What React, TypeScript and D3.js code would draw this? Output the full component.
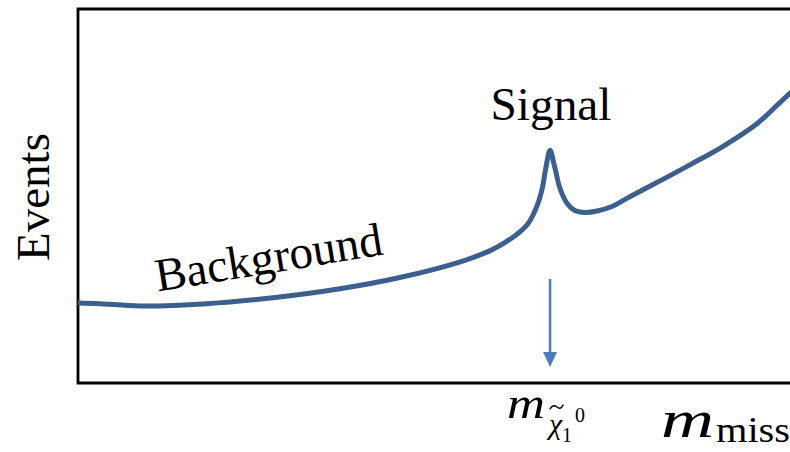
import React from "react";
import * as d3 from "d3";

// Missing-mass spectrum sketch: smooth background with a narrow signal bump
const massValues = [
  0, 3.1, 8.7, 18.1, 27.4, 36.8, 45.2, 53.7, 57.9, 60.0, 61.4, 63.2, 64.5, 65.2,
  65.7, 66.3, 66.9, 67.7, 68.7, 69.8, 71.2, 72.9, 75.0, 77.5, 81.3, 86.0, 90.6,
  95.4, 98.2, 100,
];
const eventValues = [
  21.4, 21.2, 20.6, 21.2, 22.8, 25.2, 28.2, 32.4, 35.4, 37.6, 39.4, 42.6, 47.5,
  52.0, 57.4, 62.2, 58.2, 52.0, 48.0, 46.1, 45.6, 46.0, 47.2, 49.8, 53.6, 58.4,
  63.3, 69.4, 74.3, 77.5,
];
const signalMass = [66.3];
const textLabels = ["Events", "Background", "Signal"];

const W = 790;
const H = 452;
const left = 78;
const top = 9;
const bottom = 383;
const right = 790;

const serif = "Liberation Serif";

export default function App() {
  const x = d3.scaleLinear().domain([0, 100]).range([left, right]);
  const y = d3.scaleLinear().domain([0, 100]).range([bottom, top]);

  const points: [number, number][] = massValues.map((m, i) => [m, eventValues[i]]);
  const line = d3
    .line<[number, number]>()
    .x((d) => x(d[0]))
    .y((d) => y(d[1]))
    .curve(d3.curveCatmullRom.alpha(0.5));

  const ax = x(signalMass[0]);
  const arrowTop = 279;
  const arrowTip = 367;
  const headLen = 15;
  const headHalf = 7;

  // tilde accent over the chi subscript
  const tx = 550;
  const ty = 407;
  const tilde = `M${tx},${ty + 2}C${tx + 3},${ty - 3} ${tx + 6},${ty - 1} ${tx + 7},${ty}S${tx + 11},${ty + 3} ${tx + 13},${ty - 2}`;

  return (
    <svg
      width={W}
      height={H}
      style={{ position: "absolute", left: 0, top: 0, background: "#fff" }}
    >
      <defs>
        <clipPath id="plotClip">
          <rect x={left} y={top} width={right - left} height={bottom - top} />
        </clipPath>
      </defs>

      {/* frame: left, top and bottom edges */}
      <path
        d={`M${right},${top}H${left}V${bottom}H${right}`}
        fill="none"
        stroke="#000"
        strokeWidth={2.8}
      />

      <path
        d={line(points) ?? ""}
        fill="none"
        stroke="#3b5f8e"
        strokeWidth={5}
        strokeLinecap="round"
        strokeLinejoin="round"
        clipPath="url(#plotClip)"
      />

      {/* arrow pointing to the signal mass */}
      <line
        x1={ax}
        x2={ax}
        y1={arrowTop}
        y2={arrowTip - headLen + 1}
        stroke="#4a7ebb"
        strokeWidth={2.5}
      />
      <path
        d={`M${ax - headHalf},${arrowTip - headLen}L${ax + headHalf},${arrowTip - headLen}L${ax},${arrowTip}Z`}
        fill="#4a7ebb"
      />

      <text
        transform={`translate(49,197) rotate(-90)`}
        textAnchor="middle"
        fontFamily={serif}
        fontSize={47}
        fill="#000"
      >
        {textLabels[0]}
      </text>

      <text
        transform={`translate(271,273) rotate(-9.3)`}
        textAnchor="middle"
        fontFamily={serif}
        fontSize={47}
        fill="#000"
      >
        {textLabels[1]}
      </text>

      <text x={551} y={120} textAnchor="middle" fontFamily={serif} fontSize={46} fill="#000" textLength={121} lengthAdjust="spacingAndGlyphs">
        {textLabels[2]}
      </text>

      {/* neutralino mass label */}
      <text fontFamily={serif} fill="#000">
        <tspan x={507} y={418} fontSize={44} fontStyle="italic" textLength={38} lengthAdjust="spacingAndGlyphs">
          m
        </tspan>
        <tspan x={549} y={434} fontSize={30} fontStyle="italic">
          χ
        </tspan>
        <tspan x={562} y={442} fontSize={20}>
          1
        </tspan>
        <tspan x={575} y={422} fontSize={20}>
          0
        </tspan>
      </text>
      <path d={tilde} fill="none" stroke="#000" strokeWidth={1.4} strokeLinecap="round" />

      {/* missing mass axis label */}
      <text fontFamily={serif} fill="#000">
        <tspan x={661} y={437} fontSize={52} fontStyle="italic" textLength={53} lengthAdjust="spacingAndGlyphs">
          m
        </tspan>
        <tspan x={716} y={442} fontSize={36} textLength={74} lengthAdjust="spacingAndGlyphs">
          miss
        </tspan>
      </text>
    </svg>
  );
}
